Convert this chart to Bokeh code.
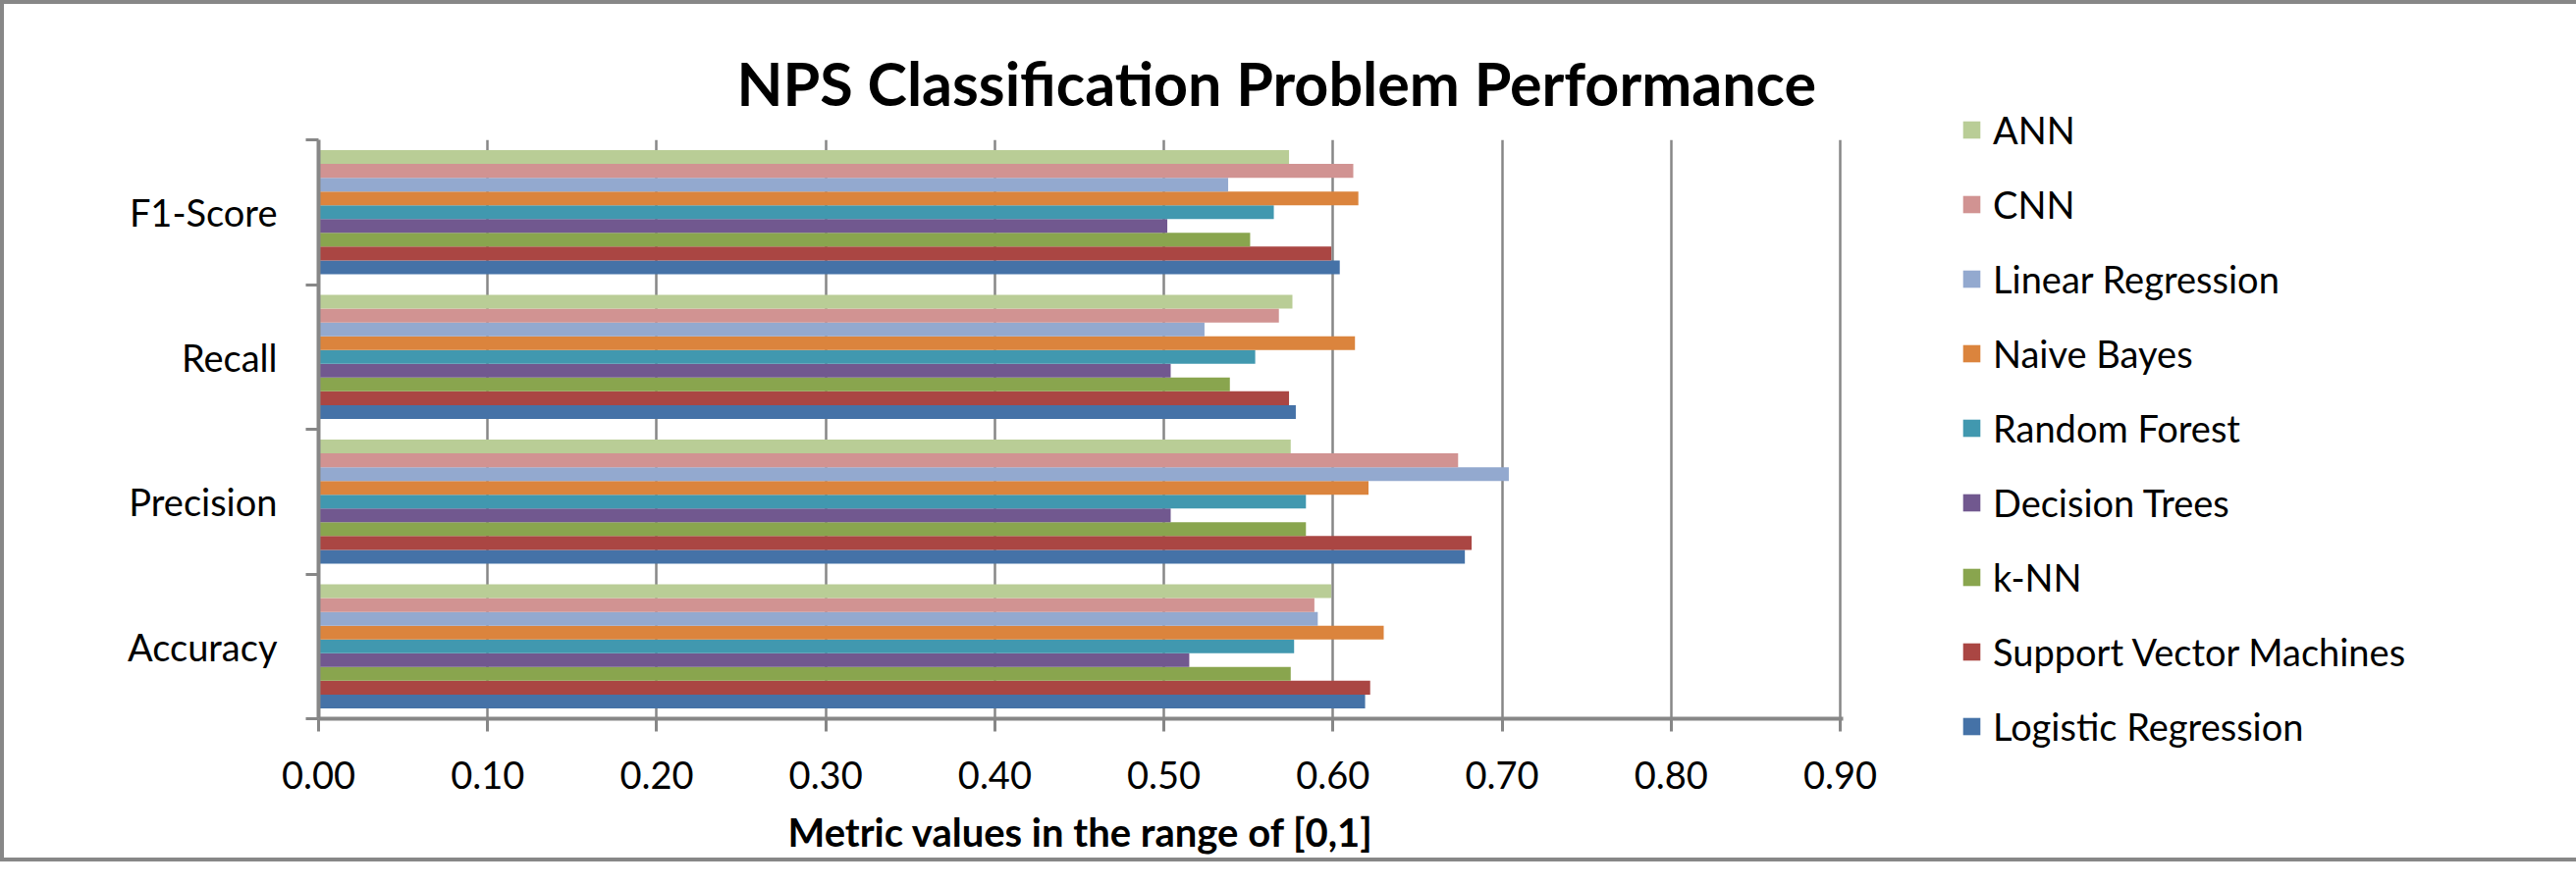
from bokeh.plotting import figure
from bokeh.models import (ColumnDataSource, FixedTicker, NumeralTickFormatter,
                          Legend, LegendItem, Title, Range1d)
from bokeh.transform import dodge
from bokeh.embed import file_html
from bokeh.resources import INLINE

categories = ["Accuracy", "Precision", "Recall", "F1-Score"]

models = ["Logistic Regression", "Support Vector Machines", "k-NN", "Decision Trees",
          "Random Forest", "Naive Bayes", "Linear Regression", "CNN", "ANN"]

# values per model: Accuracy, Precision, Recall, F1-Score
logistic_regression = [0.619, 0.678, 0.578, 0.604]
support_vector_machines = [0.622, 0.682, 0.574, 0.599]
knn = [0.575, 0.584, 0.539, 0.551]
decision_trees = [0.515, 0.504, 0.504, 0.502]
random_forest = [0.577, 0.584, 0.554, 0.565]
naive_bayes = [0.630, 0.621, 0.613, 0.615]
linear_regression = [0.591, 0.704, 0.524, 0.538]
cnn = [0.589, 0.674, 0.568, 0.612]
ann = [0.599, 0.575, 0.576, 0.574]

series = [logistic_regression, support_vector_machines, knn, decision_trees,
          random_forest, naive_bayes, linear_regression, cnn, ann]

colors = ["#4572A7", "#AA4643", "#89A54E", "#71588F", "#4198AF",
          "#DB843D", "#93A9CF", "#D19392", "#B9CD96"]

x_ticks = [0.0, 0.1, 0.2, 0.3, 0.4, 0.5, 0.6, 0.7, 0.8, 0.9]

FONT = "Lato"
GRAY = "#878787"

x_end = 0.9 * 1553 / 1550   # tiny overshoot so the 0.90 grid line is drawn
p = figure(frame_width=1553, frame_height=590, output_backend="svg", toolbar_location=None,
           x_range=Range1d(0, x_end), y_range=Range1d(0, len(categories)),
           min_border_left=320, min_border_right=0,
           min_border_top=138, min_border_bottom=142)
p.styles = {"border": f"4px solid {GRAY}"}
p.outline_line_color = None
p.background_fill_color = "white"
p.border_fill_color = "white"

# y positions (category centres)
ypos = [i + 0.5 for i in range(len(categories))]
n = len(models)
bar_h = 1.0 / (n + 1.5)

renderers = []
for k, (name, vals, col) in enumerate(zip(models, series, colors)):
    src = ColumnDataSource(dict(y=ypos, v=vals, cat=categories))
    off = (k - (n - 1) / 2) * bar_h
    r = p.hbar(y=dodge("y", off), left=0, right="v", height=bar_h,
               source=src, fill_color=col, line_color=None)
    renderers.append((name, r))

# x axis
p.xaxis.ticker = FixedTicker(ticks=x_ticks, minor_ticks=[])
p.xaxis.formatter = NumeralTickFormatter(format="0.00")
p.xaxis.axis_line_color = GRAY
p.xaxis.axis_line_width = 4
p.xaxis.major_tick_line_color = GRAY
p.xaxis.major_tick_line_width = 3
p.xaxis.major_tick_in = 0
p.xaxis.major_tick_out = 13
p.xaxis.major_label_text_font = FONT
p.xaxis.major_label_text_font_size = "38px"
p.xaxis.major_label_text_color = "black"
p.xaxis.major_label_standoff = 30
p.xaxis.axis_label = "Metric values in the range of [0,1]"
p.xaxis.axis_label_text_font = FONT
p.xaxis.axis_label_text_font_style = "bold"
p.xaxis.axis_label_text_font_size = "40px"
p.xaxis.axis_label_text_color = "black"
p.xaxis.axis_label_standoff = 17

# y axis: labels at centres, tick marks at boundaries
p.yaxis.ticker = FixedTicker(ticks=ypos, minor_ticks=list(range(len(categories) + 1)))
p.yaxis.major_label_overrides = {y: c for y, c in zip(ypos, categories)}
p.yaxis.axis_line_color = GRAY
p.yaxis.axis_line_width = 4
p.yaxis.major_tick_line_color = None
p.yaxis.major_tick_in = 0
p.yaxis.major_tick_out = 0
p.yaxis.minor_tick_line_color = GRAY
p.yaxis.minor_tick_line_width = 3
p.yaxis.minor_tick_in = 0
p.yaxis.minor_tick_out = 13
p.yaxis.major_label_text_font = FONT
p.yaxis.major_label_text_font_size = "38px"
p.yaxis.major_label_text_color = "black"
p.yaxis.major_label_standoff = 29

p.xgrid.ticker = FixedTicker(ticks=x_ticks)
p.xgrid.grid_line_color = GRAY
p.xgrid.grid_line_width = 2.5
p.ygrid.grid_line_color = None

# title
p.add_layout(Title(text="NPS Classification  Problem Performance", align="left",
                   offset=426, standoff=43, text_font=FONT, text_font_style="bold",
                   text_font_size="61px", text_color="black"), "above")

# legend (ANN on top)
items = [LegendItem(label=name, renderers=[r]) for name, r in reversed(renderers)]
legend = Legend(items=items, location=(120, -32), padding=0, margin=0,
                border_line_color=None, background_fill_alpha=0,
                glyph_width=22, glyph_height=22, label_standoff=11,
                label_height=48, spacing=28,
                label_text_font=FONT, label_text_font_size="38px",
                label_text_color="black")
p.add_layout(legend, "right")

open("out.html", "w").write(file_html(p, INLINE))
